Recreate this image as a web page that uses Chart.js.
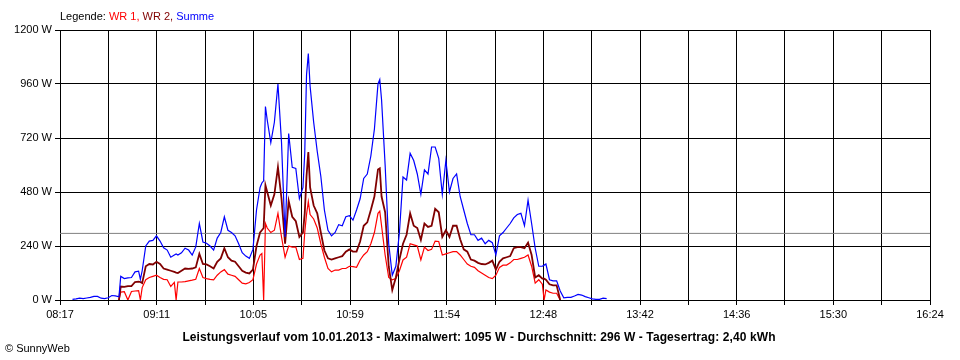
<!DOCTYPE html>
<html>
<head>
<meta charset="utf-8">
<script src="https://cdn.jsdelivr.net/npm/chart.js@4.4.1/dist/chart.umd.min.js"></script>
<style>
  html, body { margin: 0; padding: 0; background: #ffffff; }
  #wrap { position: relative; width: 960px; height: 360px; overflow: hidden; font-family: "Liberation Sans", Arial, sans-serif; }
  #c { position: absolute; left: 0; top: 0; }
  .txt { position: absolute; white-space: nowrap; }
  #legend { left: 60px; top: 10px; font-size: 11px; line-height: 13px; color: #000; }
  #summary { left: 0; width: 958px; text-align: center; top: 330px; font-size: 12px; line-height: 14px; font-weight: bold; letter-spacing: 0.1px; color: #000; }
  #copy { left: 5px; top: 342px; font-size: 11px; line-height: 13px; color: #000; }
</style>
</head>
<body>
<div id="wrap">
  <canvas id="c" width="960" height="360"></canvas>
  <div class="txt" id="legend">Legende: <span style="color:#ff0000">WR 1,</span> <span style="color:#800000">WR 2,</span> <span style="color:#0000ff">Summe</span></div>
  <div class="txt" id="summary">Leistungsverlauf vom 10.01.2013 - Maximalwert: 1095 W - Durchschnitt: 296 W - Tagesertrag: 2,40 kWh</div>
  <div class="txt" id="copy">© SunnyWeb</div>
</div>
<script>
// minutes after 08:17
const minutes = [7,9,11,13,15,17,19,21,23,25,27,29,31,33,
  34,36,38,40,42,44,45,46,48,50,52,54,56,58,60,62,64,65,66,68,70,72,74,76,78,80,82,84,86,88,90,92,94,96,98,100,
  102,104,106,108,110,112,113,114,115,116,118,120,122,124,126,128,130,132,134,136,137,138,139,140,142,144,146,148,150,
  152,154,156,158,160,162,164,166,168,170,172,174,176,178,179,180,182,184,186,188,190,192,194,196,198,200,
  202,204,206,208,210,212,214,216,218,220,222,224,226,228,230,232,234,236,238,240,242,244,246,248,250,
  252,254,256,258,260,262,264,266,268,270,271,272,274,276,278,280,
  282,284,286,288,290,292,294,296,298,300,302,304,306];

const wr1 = [null,null,null,null,null,null,null,null,null,null,null,null,null,0,
  35,37,0,38,40,42,0,55,90,100,105,110,100,92,90,60,78,0,80,80,82,85,88,92,140,100,95,92,90,110,125,135,115,110,105,90,
  75,72,78,90,160,200,207,0,340,320,300,310,385,280,190,240,235,235,180,185,300,380,437,380,360,320,250,190,140,
  125,133,133,140,140,150,148,145,178,200,215,250,300,385,395,330,200,100,90,95,130,178,190,250,245,240,
  178,235,220,225,262,260,200,205,210,215,215,200,180,160,150,145,130,120,110,100,95,110,145,155,155,
  165,180,180,185,190,200,150,75,90,70,0,45,35,30,30,0,
  null,null,null,null,null,null,null,null,null,null,null,null,null];

const wr2 = [null,null,null,null,null,null,null,null,null,null,null,null,null,0,
  60,58,62,62,80,82,80,75,150,160,158,170,160,140,135,130,125,122,120,130,140,138,140,145,205,160,158,150,140,170,185,230,190,175,170,150,
  130,122,118,135,240,300,310,320,510,480,420,470,590,450,250,440,370,350,280,300,385,550,658,500,420,385,300,220,185,
  180,185,190,195,215,225,215,215,260,330,345,400,460,580,585,460,390,150,44,100,180,250,290,385,330,320,
  267,340,325,330,405,390,280,310,280,330,330,270,225,215,180,175,165,160,158,165,175,135,170,185,190,
  195,230,235,235,230,255,200,100,110,95,95,90,70,65,65,0,
  null,null,null,null,null,null,null,null,null,null,null,null,null];

const summe = [3,5,8,6,9,12,16,16,8,6,10,20,18,14,
  105,95,98,100,125,128,92,130,240,262,265,285,262,232,222,190,200,205,200,210,230,222,200,236,340,258,252,240,222,275,300,370,310,300,285,250,
  210,195,185,225,400,500,520,530,860,800,700,790,960,700,280,740,590,585,450,500,652,1000,1095,950,790,660,550,400,310,
  285,300,335,330,370,375,355,400,450,540,560,640,760,960,980,890,600,250,110,150,300,547,533,652,620,560,
  470,578,560,680,680,630,470,620,480,540,560,460,400,340,290,290,265,275,250,265,255,200,285,300,320,
  340,365,380,385,330,444,340,230,150,150,155,160,90,85,85,40,
  10,12,12,18,25,22,15,10,5,3,3,8,6];

const average = 296;
const xMax = 487; // 08:17 -> 16:24
const xTickLabels = ['08:17','09:11','10:05','10:59','11:54','12:48','13:42','14:36','15:30','16:24'];
const yMax = 1200, yStep = 240;

function pts(vals) { return minutes.map((m, i) => ({ x: m, y: vals[i] })); }

Chart.defaults.font.family = '"Liberation Sans", Arial, sans-serif';
Chart.defaults.font.size = 11;
Chart.defaults.color = '#000';

new Chart(document.getElementById('c'), {
  type: 'line',
  data: {
    datasets: [
      { label: 'Summe', data: pts(summe), borderColor: '#0000ff', borderWidth: 1.2, order: 0 },
      { label: 'WR 2', data: pts(wr2), borderColor: '#800000', borderWidth: 1.8, order: 1 },
      { label: 'WR 1', data: pts(wr1), borderColor: '#ff0000', borderWidth: 1.2, order: 2 },
      { label: 'Durchschnitt', data: [{ x: 0, y: average }, { x: xMax, y: average }], borderColor: '#808080', borderWidth: 1, order: 3 }
    ]
  },
  options: {
    responsive: false,
    animation: false,
    parsing: true,
    elements: { point: { radius: 0 }, line: { tension: 0, fill: false } },
    spanGaps: false,
    layout: { padding: { top: 30, right: 30, left: 0, bottom: 0 } },
    plugins: { legend: { display: false }, tooltip: { enabled: false }, title: { display: false } },
    scales: {
      x: {
        type: 'linear', min: 0, max: xMax,
        afterBuildTicks: (s) => { const t = []; for (let i = 0; i <= 18; i++) t.push({ value: i * xMax / 18 }); s.ticks = t; },
        afterFit: (s) => { s.height = 60; },
        grid: { color: '#000', lineWidth: 1, tickLength: 5, drawTicks: true },
        border: { color: '#000', width: 1 },
        ticks: { autoSkip: false, maxRotation: 0, minRotation: 0, padding: 3, color: '#000', font: { size: 11 },
          callback: (v, i) => (i % 2 === 0 ? xTickLabels[i / 2] : '') }
      },
      y: {
        type: 'linear', min: 0, max: yMax,
        afterFit: (s) => { s.width = 60; },
        grid: { color: '#000', lineWidth: 1, tickLength: 5, drawTicks: true },
        border: { color: '#000', width: 1 },
        ticks: { stepSize: yStep, padding: 3, color: '#000', font: { size: 11 }, callback: (v) => v + ' W' }
      }
    }
  }
});
</script>
</body>
</html>
